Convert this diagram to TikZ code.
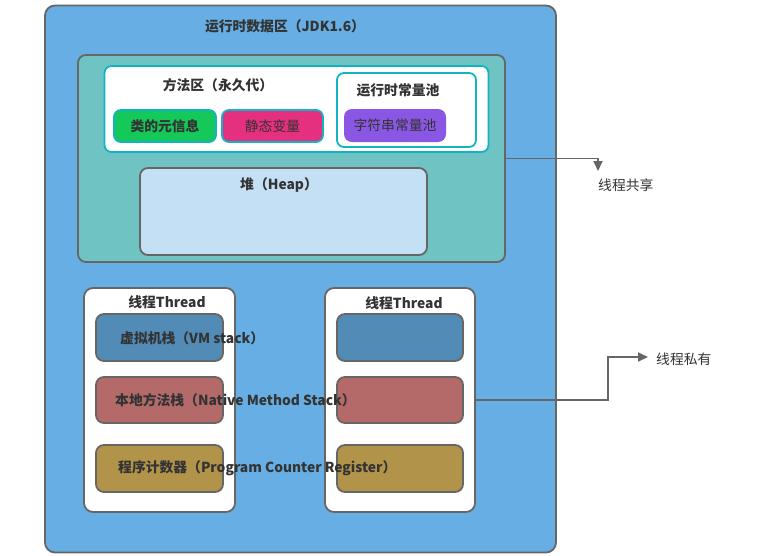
\documentclass[tikz,border=0pt]{standalone}
\usepackage{fontspec}
\setmainfont{Noto Sans CJK SC}
\usetikzlibrary{arrows.meta}
\definecolor{outerfill}{HTML}{66AEE3}
\definecolor{tealfill}{HTML}{6FC4C3}
\definecolor{cyanline}{HTML}{12B4C4}
\definecolor{greenfill}{HTML}{14C95A}
\definecolor{pinkfill}{HTML}{E4307F}
\definecolor{purplefill}{HTML}{8A57E4}
\definecolor{heapfill}{HTML}{C4E0F4}
\definecolor{vmfill}{HTML}{538BB7}
\definecolor{nativefill}{HTML}{B56A6A}
\definecolor{pcfill}{HTML}{B1944A}
\definecolor{grayline}{HTML}{666666}
\definecolor{txt}{HTML}{333333}
\begin{document}
\begin{tikzpicture}[x=1pt,y={(0,-1pt)},
  box/.style={draw=grayline,line width=1.8pt,rounded corners=8pt,inner sep=0pt},
  cbox/.style={draw=cyanline,line width=1.8pt,rounded corners=7pt,inner sep=0pt},
  ttl/.style={font=\bfseries\fontsize{13.8}{15}\selectfont,text=txt,inner sep=0pt},
  lbl/.style={font=\fontsize{13.8}{15}\selectfont,text=txt,inner sep=0pt},
  conn/.style={draw=grayline,line width=1.8pt},
  tip/.style={-{Triangle[length=10pt,width=9pt]}}]
\useasboundingbox (0,0) rectangle (773,555);
\fill[white] (0,0) rectangle (773,555);
% outer
\node[box,fill=outerfill,rounded corners=10pt,minimum width=511pt,minimum height=547pt] (outer) at (300.5,279) {};
\node[ttl] (outerT) at (285,26) {运行时数据区（JDK1.6）};
% shared area
\node[box,fill=tealfill,minimum width=427pt,minimum height=207pt] (shared) at (291.5,158.5) {};
\node[cbox,fill=white,minimum width=384pt,minimum height=86pt] (method) at (296.5,109) {};
\node[ttl] (methodT) at (218,85) {方法区（永久代）};
\node[cbox,fill=greenfill,minimum width=102pt,minimum height=32pt] (meta) at (165,126) {};
\node[ttl] at (meta) {类的元信息};
\node[cbox,fill=pinkfill,minimum width=101pt,minimum height=32pt] (static) at (272.5,126) {};
\node[lbl] at (static) {静态变量};
\node[cbox,fill=white,minimum width=139pt,minimum height=74pt] (pool) at (406.5,110) {};
\node[ttl] (poolT) at (398,90) {运行时常量池};
\node[draw=none,fill=purplefill,rounded corners=8pt,minimum width=102pt,minimum height=33pt] (str) at (395,125.5) {};
\node[lbl] at (str) {字符串常量池};
\node[box,fill=heapfill,minimum width=287pt,minimum height=87pt] (heap) at (283.5,211.5) {};
\node[ttl] (heapT) at (279,185) {堆（Heap）};
% threads
\node[box,fill=white,rounded corners=9pt,minimum width=151pt,minimum height=224pt] (th1) at (159.5,400) {};
\node[ttl] (th1T) at (167,302) {线程Thread};
\node[box,fill=white,rounded corners=9pt,minimum width=150pt,minimum height=224pt] (th2) at (400,400) {};
\node[ttl] (th2T) at (404,303) {线程Thread};
\node[box,fill=vmfill,minimum width=127pt,minimum height=47pt] (vm1) at (159.5,337.5) {};
\node[box,fill=nativefill,minimum width=127pt,minimum height=46pt] (nat1) at (159.5,400) {};
\node[box,fill=pcfill,minimum width=127pt,minimum height=47pt] (pc1) at (159.5,468.5) {};
\node[box,fill=vmfill,minimum width=126pt,minimum height=47pt] (vm2) at (400,337.5) {};
\node[box,fill=nativefill,minimum width=126pt,minimum height=46pt] (nat2) at (400,400) {};
\node[box,fill=pcfill,minimum width=126pt,minimum height=47pt] (pc2) at (400,468.5) {};
\node[ttl,anchor=west] (vmT) at (120,338) {虚拟机栈（VM stack）};
\node[ttl,anchor=west] (natT) at (115,400) {本地方法栈（Native Method Stack）};
\node[ttl,anchor=west] (pcT) at (118,468) {程序计数器（Program Counter Register）};
% connectors
\coordinate (sharedTip) at (598,171);
\node[lbl,anchor=west] (sharedL) at (598,185) {线程共享};
\draw[conn,tip] (shared.east) -| (sharedTip);
\node[lbl,anchor=west] (privL) at (656,359) {线程私有};
\coordinate (privTip) at (648,357);
\draw[conn,tip] (th2.east) -- (608,400) |- (privTip);
\end{tikzpicture}
\end{document}
